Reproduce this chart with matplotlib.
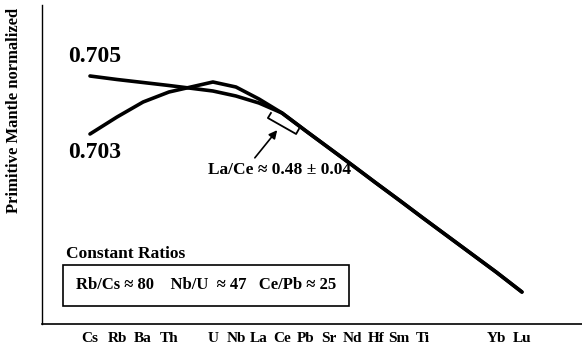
import matplotlib
matplotlib.use("Agg")
import matplotlib.pyplot as plt

plt.rcParams['font.family'] = ['Liberation Serif', 'DejaVu Serif']
plt.rcParams['font.weight'] = 'bold'

# element order along the x axis (gaps where elements are left out)
elements = ['Cs', 'Rb', 'Ba', 'Th', 'U', 'Nb', 'La', 'Ce', 'Pb', 'Sr', 'Nd', 'Hf', 'Sm', 'Ti', 'Yb', 'Lu']
positions = [0, 1.15, 2.26, 3.36, 5.23, 6.21, 7.19, 8.17, 9.19, 10.17, 11.15, 12.17, 13.15, 14.17, 17.28, 18.38]

# normalized pattern, arbitrary units (no y scale in original)
curve_705 = [248, 244.5, 241.5, 238.5, 233, 228, 221, 211, 193, 176, 159, 141, 124, 106, 52, 32]
curve_703 = [190, 207, 222, 232, 242, 237, 225, 211, 193, 176, 159, 141, 124, 106, 52, 32]

fig = plt.figure(figsize=(5.82, 3.53), dpi=100)
ax = fig.add_axes([42/582, 29/353, 540/582, 319/353])

ax.plot(positions, curve_705, color='black', lw=2.6, solid_capstyle='round', solid_joinstyle='round')
ax.plot(positions, curve_703, color='black', lw=2.6, solid_capstyle='round', solid_joinstyle='round')

ax.set_xlim(-48/23.5, 492/23.5)
ax.set_ylim(0, 319)

ax.spines['top'].set_visible(False)
ax.spines['right'].set_visible(False)
ax.spines['left'].set_linewidth(1.0)
ax.spines['bottom'].set_linewidth(1.2)
ax.set_yticks([])
ax.set_xticks(positions)
ax.set_xticklabels(elements, fontsize=11, fontweight='bold')
ax.tick_params(axis='x', length=0, pad=6)

fig.text(14/582, 1 - 110/353, 'Primitive Mantle normalized', rotation=90,
         ha='center', va='center', fontsize=12, fontweight='bold')

# isotope labels
ax.text(-0.95, 267, '0.705', fontsize=17, fontweight='bold', va='center', ha='left')
ax.text(-0.95, 171, '0.703', fontsize=17, fontweight='bold', va='center', ha='left')

# bracket under La-Ce segment
bx = [7.70, 7.57, 8.77, 8.89]
by = [211, 206, 190, 195]
ax.plot(bx, by, color='black', lw=1.3)
ax.annotate('', xy=(8.04, 196), xytext=(6.94, 164),
            arrowprops=dict(arrowstyle='-|>', color='black', lw=1.2, mutation_scale=12))
ax.text(5.0, 154, 'La/Ce \u2248 0.48 \u00b1 0.04', fontsize=12.5, fontweight='bold', va='center', ha='left')

# constant ratios box
ax.text(-1.0, 70, 'Constant Ratios', fontsize=12.5, fontweight='bold', va='center', ha='left')
ax.text(4.94, 39, 'Rb/Cs \u2248 80    Nb/U  \u2248 47   Ce/Pb \u2248 25', fontsize=12,
        fontweight='bold', va='center', ha='center',
        bbox=dict(boxstyle='square,pad=0.75', fc='white', ec='black', lw=1.2))

fig.savefig('out.png', dpi=100)
